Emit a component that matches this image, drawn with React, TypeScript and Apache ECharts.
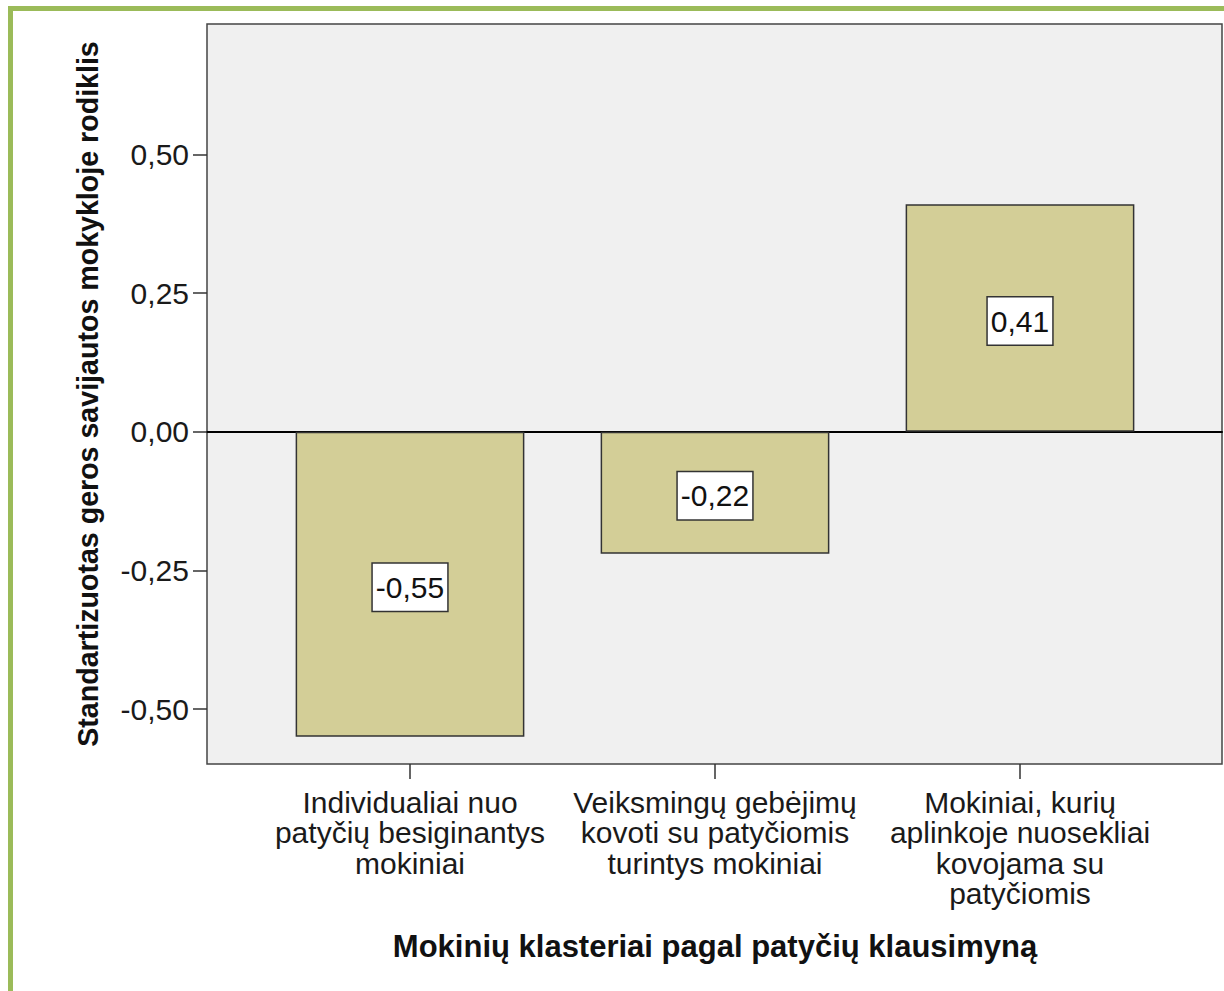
import React, { useEffect, useRef } from "react";
import * as echarts from "echarts";

const categories = [
  "Individualiai nuo\npatyčių besiginantys\nmokiniai",
  "Veiksmingų gebėjimų\nkovoti su patyčiomis\nturintys mokiniai",
  "Mokiniai, kurių\naplinkoje nuosekliai\nkovojama su\npatyčiomis",
];
const values = [-0.55, -0.22, 0.41];
const yTicks = [-0.5, -0.25, 0, 0.25, 0.5];
const yMin = -0.599;
const yMax = 0.735;
const xTitle = "Mokinių klasteriai pagal patyčių klausimyną";
const yTitle = "Standartizuotas geros savijautos mokykloje rodiklis";

const FONT = "'Liberation Sans', Arial, sans-serif";
const fmt = (v: number) => v.toFixed(2).replace(".", ",");

export default function App() {
  const ref = useRef<HTMLDivElement>(null);
  useEffect(() => {
    if (!ref.current) return;
    const chart = echarts.init(ref.current, null, { renderer: "svg" });
    const gridTop = 24;
    const gridBottom = 227;
    chart.setOption({
      animation: false,
      backgroundColor: "#ffffff",
      textStyle: { fontFamily: FONT },
      graphic: [
        { type: "rect", shape: { x: 8, y: 6, width: 1300, height: 5 }, style: { fill: "#9BBB59" }, silent: true },
        { type: "rect", shape: { x: 8, y: 6, width: 5, height: 1100 }, style: { fill: "#9BBB59" }, silent: true },
      ],
      grid: [
        {
          left: 207, right: 2, top: gridTop, bottom: gridBottom,
          show: true, backgroundColor: "#F0F0F0", borderColor: "#444444", borderWidth: 1.5,
        },
        { left: 257.5, right: 51.5, top: gridTop, bottom: gridBottom },
      ],
      xAxis: [
        {
          gridIndex: 0, type: "value", min: 0, max: 1,
          axisLine: { show: true, onZero: true, lineStyle: { color: "#000000", width: 2 } },
          axisTick: { show: false }, axisLabel: { show: false }, splitLine: { show: false },
        },
        {
          gridIndex: 1, type: "category", data: categories, position: "bottom",
          axisLine: { show: false, onZero: false },
          axisTick: { show: true, alignWithLabel: true, inside: false, length: 15, lineStyle: { color: "#333333", width: 1.5 } },
          axisLabel: {
            interval: 0, margin: 23, color: "#1a1a1a", fontSize: 30, lineHeight: 30.5, fontFamily: FONT, align: "center",
          },
          name: xTitle, nameLocation: "middle", nameGap: 167,
          nameTextStyle: { fontSize: 31, fontWeight: "bold", color: "#111111", fontFamily: FONT },
        },
      ],
      yAxis: [
        {
          gridIndex: 0, type: "value", min: yMin, max: yMax,
          axisLine: { show: false },
          axisTick: { show: true, inside: false, length: 14, customValues: yTicks, lineStyle: { color: "#333333", width: 1.5 } },
          axisLabel: {
            show: true, customValues: yTicks, margin: 18, color: "#1a1a1a", fontSize: 30, fontFamily: FONT,
            formatter: (v: number) => fmt(v),
          },
          splitLine: { show: false },
          name: yTitle, nameLocation: "middle", nameGap: 105,
          nameTextStyle: { fontSize: 28.6, fontWeight: "bold", color: "#111111", fontFamily: FONT },
        },
        {
          gridIndex: 1, type: "value", min: yMin, max: yMax,
          axisLine: { show: false }, axisTick: { show: false }, axisLabel: { show: false }, splitLine: { show: false },
        },
      ],
      series: [
        {
          type: "bar", xAxisIndex: 1, yAxisIndex: 1, data: values, barWidth: "75%",
          itemStyle: { color: "#D3CE97", borderColor: "#333333", borderWidth: 1.5 },
          label: {
            show: true, position: "inside", formatter: (p: any) => fmt(p.value), offset: [0, 3],
            color: "#111111", fontSize: 30, fontFamily: FONT, lineHeight: 30,
            backgroundColor: "#ffffff", borderColor: "#333333", borderWidth: 1.5, padding: [9, 3, 8, 3],
          },
        },
      ],
    });
    return () => chart.dispose();
  }, []);
  return <div ref={ref} style={{ width: 1224, height: 991, position: "absolute", left: 0, top: 0 }} />;
}
